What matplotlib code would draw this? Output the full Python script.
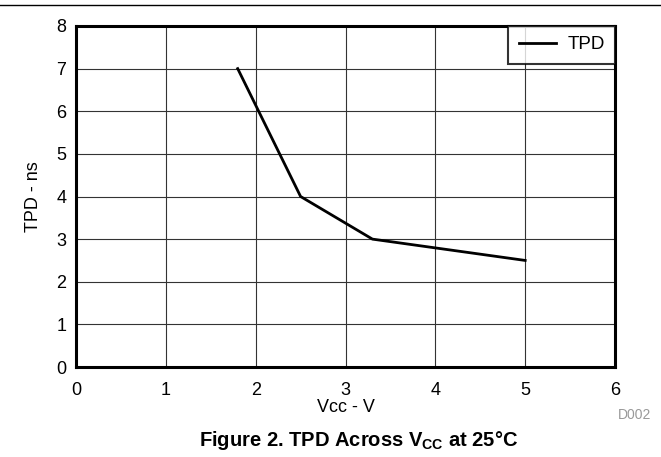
import matplotlib
matplotlib.use("Agg")
import matplotlib.pyplot as plt
from matplotlib.lines import Line2D

plt.rcParams['font.family'] = ['Liberation Sans', 'DejaVu Sans']
plt.rcParams['mathtext.fontset'] = 'custom'
plt.rcParams['mathtext.rm'] = 'Liberation Sans'
plt.rcParams['mathtext.bf'] = 'Liberation Sans:bold'

vcc = [1.8, 2.5, 3.3, 5.0]
tpd = [7.0, 4.0, 3.0, 2.5]
xticks = [0, 1, 2, 3, 4, 5, 6]
yticks = [0, 1, 2, 3, 4, 5, 6, 7, 8]

fig = plt.figure(figsize=(6.61, 4.57), dpi=100)
ax = fig.add_axes([76 / 661, 1 - 367 / 457, (615 - 76) / 661, (367 - 26) / 457])

ax.plot(vcc, tpd, color='black', lw=2, label='TPD')
ax.set_xlim(0, 6)
ax.set_ylim(0, 8)
ax.set_xticks(xticks)
ax.set_yticks(yticks)
ax.grid(True, color='#333333', lw=0.8)
ax.tick_params(length=0, labelsize=13)
ax.tick_params(axis='x', pad=11)
ax.tick_params(axis='y', pad=7)
for s in ax.spines.values():
    s.set_linewidth(2.2)
ax.set_xlabel('Vcc - V', fontsize=13, labelpad=0)
ax.set_ylabel('TPD - ns', fontsize=13, labelpad=10)

leg = ax.legend(loc='upper right', fontsize=13.5, frameon=True, fancybox=False,
                borderaxespad=0, handlelength=2.0, handletextpad=0.6, borderpad=0.55)
leg.get_frame().set_edgecolor('black')
leg.get_frame().set_linewidth(1.5)

# rule at the top of the page
fig.add_artist(Line2D([0, 1], [1 - 5 / 457, 1 - 5 / 457], color='black', lw=1))

fig.text(651 / 661, 1 - 415 / 457, 'D002', color='#999999', fontsize=10,
         ha='right', va='center')
fig.text(359 / 661, 1 - 440 / 457, r'Figure 2. TPD Across V$_{\mathbf{CC}}$ at 25°C',
         fontsize=14.5, fontweight='bold', ha='center', va='center')

fig.savefig('out.png', dpi=100)
